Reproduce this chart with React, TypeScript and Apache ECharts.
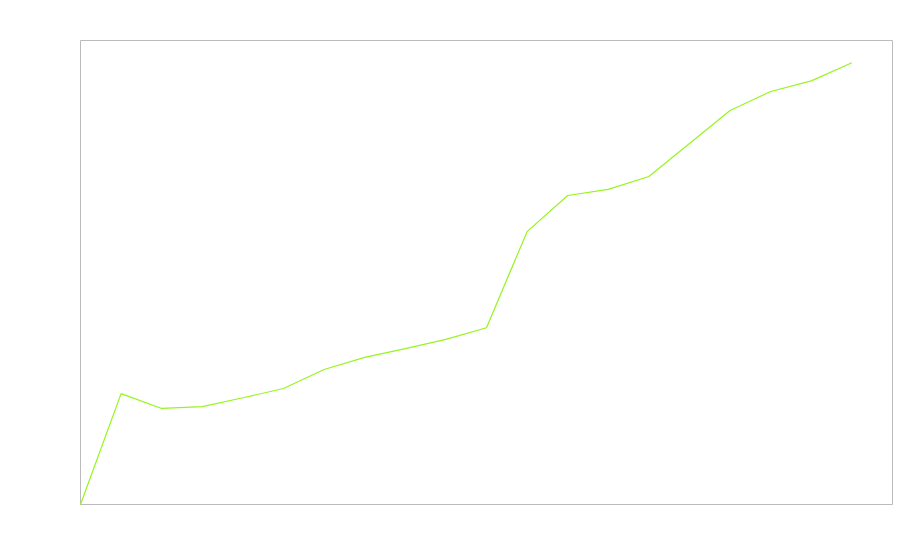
import React, { useEffect, useRef } from "react";
import * as echarts from "echarts";

const xIndex = [0, 1, 2, 3, 4, 5, 6, 7, 8, 9, 10, 11, 12, 13, 14, 15, 16, 17, 18, 19];
const values = [0, 23.9, 20.7, 21.1, 23.0, 25.0, 29.1, 31.7, 33.6, 35.6, 38.1, 58.8, 66.6, 67.9, 70.7, 77.8, 84.9, 89.0, 91.3, 95.2];

export default function App() {
  const ref = useRef<HTMLDivElement>(null);
  useEffect(() => {
    if (!ref.current) return;
    const chart = echarts.init(ref.current, undefined, { renderer: "svg" });
    chart.setOption({
      animation: false,
      backgroundColor: "#ffffff",
      grid: {
        left: 80.5,
        top: 40.5,
        right: 7.5,
        bottom: 55.5,
        show: true,
        borderColor: "#bbbbbb",
        borderWidth: 1,
        backgroundColor: "transparent",
      },
      xAxis: {
        type: "value",
        min: 0,
        max: 20,
        show: false,
        splitLine: { show: false },
      },
      yAxis: {
        type: "value",
        min: 0,
        max: 100,
        show: false,
        splitLine: { show: false },
      },
      series: [
        {
          type: "line",
          data: xIndex.map((x, i) => [x, values[i]]),
          showSymbol: false,
          symbol: "none",
          lineStyle: { color: "#96f51e", width: 1.2 },
          itemStyle: { color: "#96f51e" },
        },
      ],
    });
    return () => chart.dispose();
  }, []);
  return (
    <div
      ref={ref}
      style={{ position: "fixed", left: 0, top: 0, width: 900, height: 560 }}
    />
  );
}
